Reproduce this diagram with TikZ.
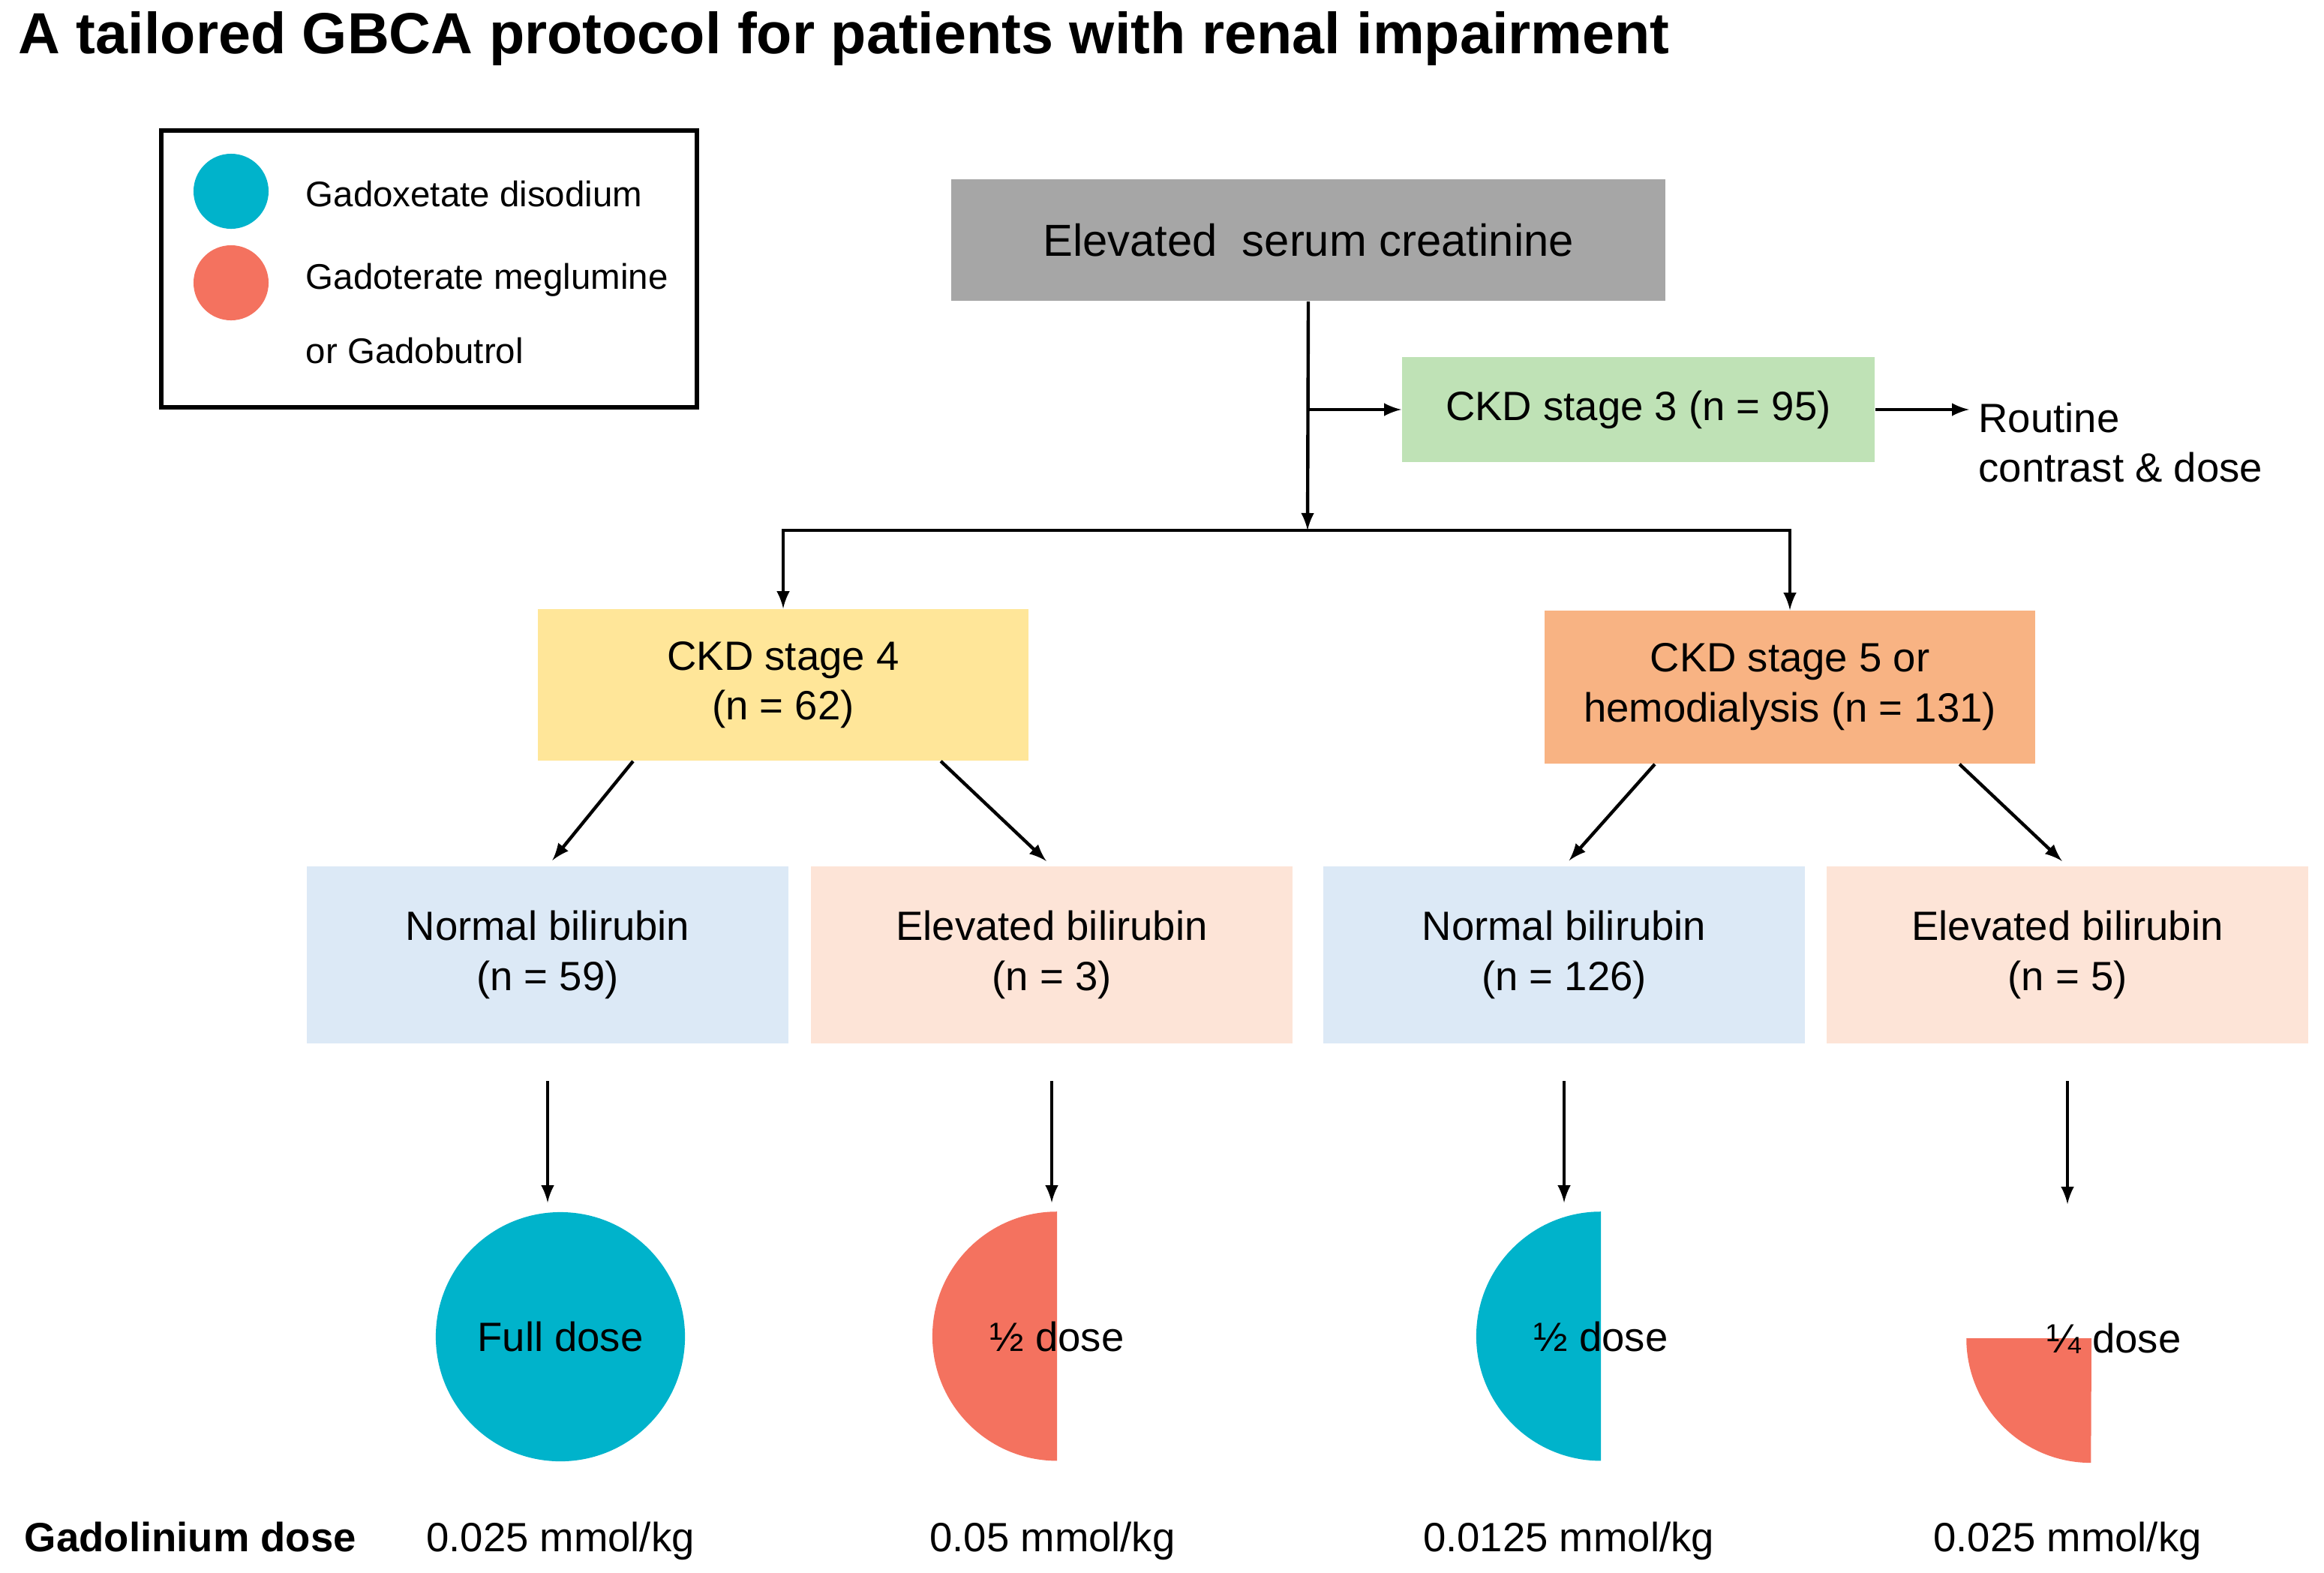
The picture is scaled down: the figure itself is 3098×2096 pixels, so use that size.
\documentclass[tikz,border=0pt]{standalone}
\usepackage{fontspec}
\setmainfont{Liberation Sans}
\usepackage{xcolor}
\usepackage{tikz}
\definecolor{gdcyan}{HTML}{00B3CB}
\definecolor{gdcoral}{HTML}{F4725F}
\definecolor{boxgray}{HTML}{A6A6A6}
\definecolor{boxgreen}{HTML}{BFE2B6}
\definecolor{boxyellow}{HTML}{FFE699}
\definecolor{boxorange}{HTML}{F8B383}
\definecolor{boxblue}{HTML}{DCE9F6}
\definecolor{boxpeach}{HTML}{FDE4D7}

\begin{document}
\begin{tikzpicture}[x=0.01cm,y=-0.01cm,>=latex,
  box/.style={rectangle,inner sep=0pt,align=center,font=\fontsize{15.5}{19}\selectfont},
  bilbox/.style={box,minimum width=6.42cm,minimum height=2.35cm},
  link/.style={->,line width=1.25pt},
  doselink/.style={link,shorten <=5mm,shorten >=1.2mm},
  disc/.style={circle,inner sep=0pt,minimum size=3.32cm,font=\fontsize{15.5}{19}\selectfont},
  txt/.style={font=\fontsize{15.5}{19}\selectfont}]
\useasboundingbox (0,0) rectangle (3098,2096);
% Title
\node[anchor=base west,inner sep=0pt,font=\fontsize{22}{26}\selectfont\bfseries] (title) at (24,71)
{A tailored GBCA protocol for patients with renal impairment};
% Legend
\draw[line width=1.5pt] (215,174) rectangle (929,543);
\fill[gdcyan] (308,255) circle (0.5cm);
\fill[gdcoral] (308,377) circle (0.5cm);
\node[anchor=west,inner sep=0pt,font=\fontsize{13.5}{16}\selectfont] (legcyan) at (407,259) {Gadoxetate disodium};
\node[anchor=west,inner sep=0pt,align=left,font=\fontsize{13.5}{28}\selectfont] (legcoral) at (407,418)
{Gadoterate meglumine\\or Gadobutrol};
% Boxes
\node[box,fill=boxgray,minimum width=9.51cm,minimum height=1.62cm,font=\fontsize{17}{20}\selectfont] (serum) at (1744,320)
{Elevated\ \ serum creatinine};
\node[box,fill=boxgreen,minimum width=6.3cm,minimum height=1.4cm] (ckd3) at (2184,546) {CKD stage 3 (n = 95)};
\node[anchor=west,align=left,font=\fontsize{15.5}{18.5}\selectfont] (routine) at (2625,590) {Routine\\contrast \& dose};
\node[box,fill=boxyellow,minimum width=6.54cm,minimum height=2.02cm] (ckd4) at (1044,913) {CKD stage 4\\(n = 62)};
\node[box,fill=boxorange,minimum width=6.54cm,minimum height=2.04cm] (ckd5) at (2386,916) {CKD stage 5 or\\hemodialysis (n = 131)};
\node[bilbox,fill=boxblue] (bil1) at (730,1273) {Normal bilirubin\\(n = 59)};
\node[bilbox,fill=boxpeach] (bil2) at (1402,1273) {Elevated bilirubin\\(n = 3)};
\node[bilbox,fill=boxblue] (bil3) at (2085,1273) {Normal bilirubin\\(n = 126)};
\node[bilbox,fill=boxpeach] (bil4) at (2756,1273) {Elevated bilirubin\\(n = 5)};
% Dose shapes
\node[disc] (dose1) at (747,1782) {};
\node[disc] (dose2) at (1409,1782) {};
\node[disc] (dose3) at (2134,1782) {};
\node[disc] (dose4) at (2788,1784) {};
\fill[gdcyan] (dose1.center) circle (1.66cm);
\fill[gdcoral] (dose2.center) -- (dose2.north) arc[start angle=90,end angle=270,radius=1.66cm] -- cycle;
\fill[gdcyan] (dose3.center) -- (dose3.north) arc[start angle=90,end angle=270,radius=1.66cm] -- cycle;
\fill[gdcoral] (dose4.center) -- (dose4.west) arc[start angle=180,end angle=270,radius=1.66cm] -- cycle;
\node[txt] at (dose1.center) {Full dose};
\node[txt] at (dose2.center) {½ dose};
\node[txt] at (dose3.center) {½ dose};
\node[txt] at ([xshift=0.3cm]dose4.center) {¼ dose};
% Connectors
\coordinate (split) at (1743,707);
\coordinate (branch) at (serum.south |- ckd3.west);
\draw[link] (serum.south) -- (split);
\draw[link] (split) -| (ckd4.north);
\draw[link] (split) -| (ckd5.north);
\draw[link] (branch) -- (ckd3.west);
\draw[link] (ckd3.east) -- (ckd3.east -| routine.west);
\draw[link,shorten >=1mm] ([xshift=-2cm]ckd4.south) -- (bil1.north);
\draw[link,shorten >=1mm] ([xshift=2.1cm]ckd4.south) -- (bil2.north);
\draw[link,shorten >=1mm] ([xshift=-1.8cm]ckd5.south) -- (bil3.north);
\draw[link,shorten >=1mm] ([xshift=2.26cm]ckd5.south) -- (bil4.north);
\foreach \i in {1,2,3,4}
  \draw[doselink] (bil\i.south) -- (bil\i.south |- dose\i.north);
% Gadolinium dose row
\node[anchor=base west,inner sep=0pt,font=\fontsize{15.5}{19}\selectfont\bfseries] (gdlabel) at (32,2068) {Gadolinium dose};
\node[txt,anchor=base] (gd1) at (747,2068) {0.025 mmol/kg};
\node[txt,anchor=base] (gd2) at (1403,2068) {0.05 mmol/kg};
\node[txt,anchor=base] (gd3) at (2091,2068) {0.0125 mmol/kg};
\node[txt,anchor=base] (gd4) at (2756,2068) {0.025 mmol/kg};
\end{tikzpicture}
\end{document}
